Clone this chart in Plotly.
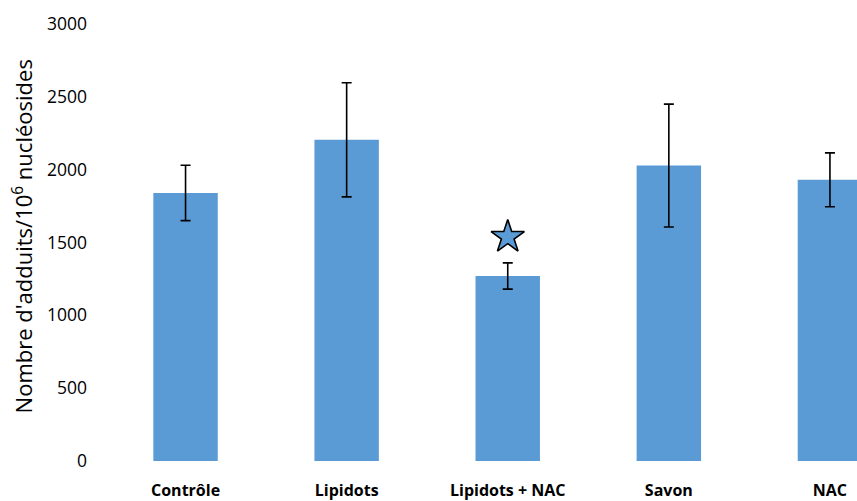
import plotly.graph_objects as go

categories = ["Contrôle", "Lipidots", "Lipidots + NAC", "Savon", "NAC"]
values = [1840, 2205, 1270, 2028, 1930]
errors = [190, 392, 90, 422, 185]
star_category = ["Lipidots + NAC"]
star_value = [1538]
y_ticks = [0, 500, 1000, 1500, 2000, 2500, 3000]
y_title = "Nombre d'adduits/10<sup>6</sup> nucléosides"

BLUE = "#5B9BD5"

fig = go.Figure()
fig.add_trace(go.Bar(
    x=categories, y=values,
    marker=dict(color=BLUE, line=dict(width=0)),
    error_y=dict(type="data", array=errors, visible=True, color="black", thickness=1.6, width=5),
    showlegend=False,
))
fig.add_trace(go.Scatter(
    x=star_category, y=star_value, mode="markers",
    marker=dict(symbol="star", size=25, color=BLUE, line=dict(color="black", width=1.6)),
    showlegend=False,
))

fig.add_annotation(
    text=y_title, textangle=-90, showarrow=False,
    xref="paper", yref="paper", x=(22 - 105) / 752, y=0.514,
    xanchor="center", yanchor="middle",
    font=dict(size=22, color="#000000"),
)

fig.update_layout(
    width=857, height=501,
    margin=dict(l=105, r=0, t=24, b=40, autoexpand=False),
    paper_bgcolor="white", plot_bgcolor="white",
    bargap=0.6,
    font=dict(family="Open Sans, Liberation Sans, sans-serif", color="#000000"),
    xaxis=dict(
        range=[-0.5, 4.168], showgrid=False, showline=False, zeroline=False,
        tickfont=dict(size=16, color="black", family="Open Sans, sans-serif", weight="bold"),
        ticklabelstandoff=18, automargin=False,
    ),
    yaxis=dict(
        range=[0, 3000], tickvals=y_ticks, showgrid=False, showline=False, zeroline=False,
        tickfont=dict(size=17.5, color="#000000"),
        ticklabelstandoff=17, automargin=False,
    ),
)

fig.write_html(
    "out.html",
    config={"displayModeBar": False},
    post_script="document.body.style.margin='0';document.body.style.overflow='hidden';",
)
